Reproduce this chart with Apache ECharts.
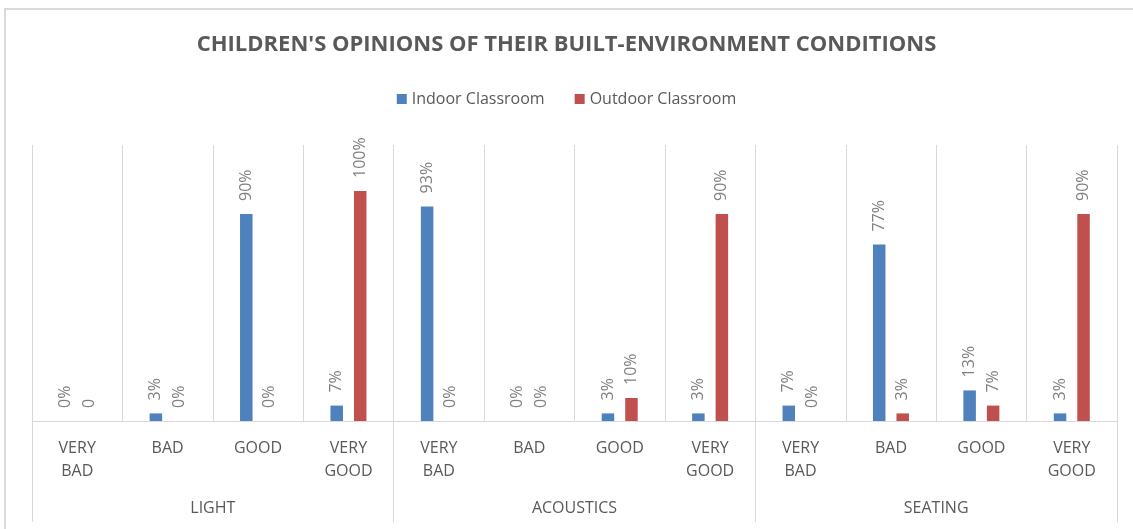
<!DOCTYPE html>
<html>
<head>
<meta charset="utf-8">
<style>
  html, body { margin: 0; padding: 0; background: #fff; }
  #chart { width: 1133px; height: 529px; }
</style>
<script src="https://cdn.jsdelivr.net/npm/echarts@6/dist/echarts.min.js"></script>
</head>
<body>
<div id="chart"></div>
<script>
// categories (rating) and groups (condition)
const ratings = ['VERY BAD', 'BAD', 'GOOD', 'VERY GOOD',
                 'VERY BAD', 'BAD', 'GOOD', 'VERY GOOD',
                 'VERY BAD', 'BAD', 'GOOD', 'VERY GOOD']
const groups = ['LIGHT', 'ACOUSTICS', 'SEATING']

// percentages
const indoor = [0, 3.3, 90, 6.7, 93.3, 0, 3.3, 3.3, 6.7, 76.7, 13.3, 3.3]
const outdoor = [0, 0, 0, 100, 0, 0, 10, 90, 0, 3.3, 6.7, 90]
// the first outdoor label shows "0" without the % sign
const outdoorLabelOverride = { 0: '0' }

const yMax = 120

const gridLine = '#d9d9d9'
const textColor = '#595959'
const labelColor = '#808080'
const font = '"Open Sans", "Liberation Sans", sans-serif'

const chart = echarts.init(document.getElementById('chart'))

function barLabel(override) {
  return {
    show: true,
    position: 'top',
    rotate: 90,
    align: 'left',
    verticalAlign: 'middle',
    distance: 13,
    color: labelColor,
    fontFamily: font,
    fontSize: 16,
    formatter: p => (override && override[p.dataIndex] !== undefined)
      ? override[p.dataIndex]
      : Math.round(p.value) + '%'
  }
}

chart.setOption({
  backgroundColor: '#fff',
  animation: false,
  graphic: [{
    type: 'rect',
    shape: { x: 5, y: 9, width: 1200, height: 600 },
    style: { fill: 'none', stroke: '#d9d9d9', lineWidth: 2 },
    silent: true
  }],
  title: {
    text: "CHILDREN'S OPINIONS OF THEIR BUILT-ENVIRONMENT CONDITIONS",
    left: 'center',
    top: 29,
    textStyle: {
      color: textColor,
      fontFamily: font,
      fontSize: 22,
      fontWeight: 'bold'
    }
  },
  legend: {
    data: ['Indoor Classroom', 'Outdoor Classroom'],
    left: 'center',
    top: 86,
    icon: 'rect',
    itemWidth: 10,
    itemHeight: 10,
    itemGap: 30,
    textStyle: { color: textColor, fontFamily: font, fontSize: 16 }
  },
  grid: { left: 32, right: 16, top: 145, bottom: 108, containLabel: false },
  xAxis: [{
    type: 'category',
    data: ratings,
    position: 'bottom',
    axisLine: { show: true, lineStyle: { color: gridLine, width: 1 } },
    axisTick: { show: false },
    splitLine: { show: true, interval: 0, lineStyle: { color: gridLine, width: 1 } },
    axisLabel: {
      interval: 0,
      margin: 16,
      color: textColor,
      fontFamily: font,
      fontSize: 16,
      lineHeight: 23,
      formatter: v => v.replace(' ', '\n')
    }
  }, {
    type: 'category',
    data: groups,
    position: 'bottom',
    axisLine: { show: false },
    axisTick: { show: true, interval: 0, length: 101, lineStyle: { color: gridLine, width: 1 } },
    splitLine: { show: false },
    axisLabel: {
      interval: 0,
      margin: 79,
      color: textColor,
      fontFamily: font,
      fontSize: 16
    }
  }],
  yAxis: {
    type: 'value',
    min: 0,
    max: yMax,
    show: false,
    splitLine: { show: false }
  },
  series: [{
    name: 'Indoor Classroom',
    type: 'bar',
    xAxisIndex: 0,
    data: indoor,
    barWidth: 12.5,
    barGap: '88%',
    itemStyle: { color: '#4f81bd' },
    label: barLabel(null)
  }, {
    name: 'Outdoor Classroom',
    type: 'bar',
    xAxisIndex: 0,
    data: outdoor,
    barWidth: 12.5,
    barGap: '88%',
    itemStyle: { color: '#c0504d' },
    label: barLabel(outdoorLabelOverride)
  }]
})
</script>
</body>
</html>
